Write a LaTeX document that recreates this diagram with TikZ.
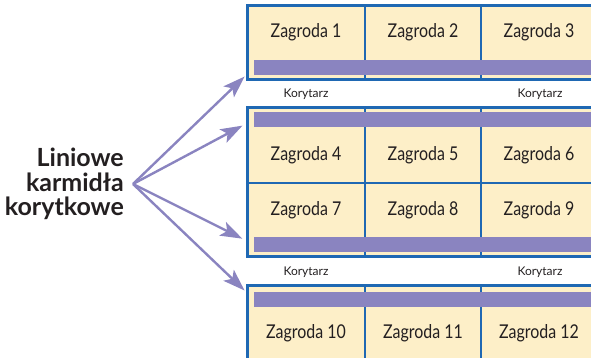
\documentclass[tikz,border=0pt]{standalone}
\usepackage{fontspec}
\setmainfont{Lato}
\newfontfamily\cellfont[FakeStretch=0.84]{Lato}
\usetikzlibrary{arrows.meta,positioning,calc}
\definecolor{penblue}{HTML}{1F68B3}
\definecolor{pencream}{HTML}{FDEFC8}
\definecolor{trough}{HTML}{8A84C0}
\definecolor{ink}{HTML}{231F20}

\begin{document}
\begin{tikzpicture}[x=1pt, y=1pt]
  \tikzset{
    pencell/.style={inner sep=0pt, text=ink, font=\cellfont\fontsize{19}{22}\selectfont},
    corridor/.style={inner sep=0pt, text=ink, font=\fontsize{12}{14}\selectfont},
    troughbar/.style={fill=trough, draw=none, inner sep=0pt, minimum height=15pt, minimum width=360pt, anchor=west},
    frame/.style={draw=penblue, line width=3pt, fill=pencream},
    divider/.style={draw=penblue, line width=2.5pt},
    feed/.style={-{Stealth[length=22pt,width=15pt,inset=5pt]},
      draw=trough, fill=trough, line width=2.4pt, shorten >=13pt},
  }
  % Sizes (y measured downwards from the top edge)
  \def\L{247.5}  % left edge of the pens
  \def\R{605}    % right edge (off the page)
  \def\xa{365}   % column dividers
  \def\xb{481}

  \useasboundingbox (0,0) rectangle (591,-358);

  % Pen blocks
  \draw[frame] (\L,-5.5) rectangle (\R,-79.5);
  \draw[frame] (\L,-107.5) rectangle (\R,-256.5);
  \draw[frame] (\L,-285.5) rectangle (\R,-375);

  % Column and row dividers
  \foreach \x in {\xa,\xb} {
    \draw[divider] (\x,-5.5) -- (\x,-79.5);
    \draw[divider] (\x,-107.5) -- (\x,-256.5);
    \draw[divider] (\x,-285.5) -- (\x,-375);
  }
  \draw[divider] (\L,-183) -- (\R,-183);

  % Troughs
  \node[troughbar] (bar1) at (254,-67.5) {};
  \node[troughbar] (bar2) at (254,-119.5) {};
  \node[troughbar] (bar3) at (254,-244.5) {};
  \node[troughbar] (bar4) at (254,-299.5) {};

  % Pen labels
  \foreach \row/\y in {0/-32.5,1/-155,2/-210,3/-333}
    \foreach \col/\x in {1/306,2/423,3/539} {
      \pgfmathtruncatemacro\num{3*\row+\col}
      \node[pencell] (z\num) at (\x,\y) {Zagroda \num};
    }

  % Corridors
  \node[corridor] (kor1) at (306,-94) {Korytarz};
  \node[corridor] (kor2) at (540,-94) {Korytarz};
  \node[corridor] (kor3) at (306,-272) {Korytarz};
  \node[corridor] (kor4) at (540,-272) {Korytarz};

  % Feeder label and arrows
  \node[align=right, anchor=east, inner sep=0pt, text=ink,
        font=\bfseries\fontsize{25}{24.5}\selectfont] (feeder) at (124,-184)
        {Liniowe\\karmidła\\korytkowe};
  \coordinate (hub) at ($(feeder.east)+(9,0)$);
  \foreach \b in {1,...,4}
    \draw[feed] (hub) -- (bar\b.west);
\end{tikzpicture}
\end{document}
